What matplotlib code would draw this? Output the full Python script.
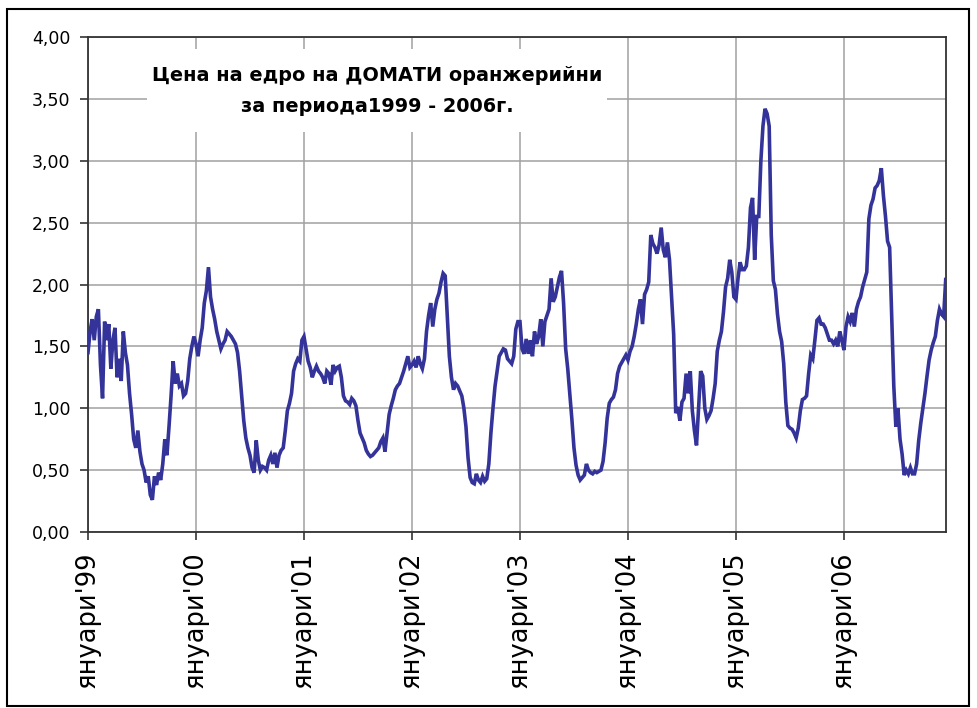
import numpy as np
import matplotlib
matplotlib.use('Agg')
import matplotlib.pyplot as plt
from matplotlib.patches import Rectangle

# weekly wholesale price of greenhouse tomatoes, BGN/kg
prices_1999 = [1.45, 1.62, 1.72, 1.55, 1.74, 1.80, 1.35, 1.08, 1.70, 1.55, 1.68, 1.32, 1.55,
               1.65, 1.25, 1.40, 1.22, 1.62, 1.45, 1.35, 1.12, 0.95, 0.75, 0.68, 0.82, 0.65,
               0.55, 0.50, 0.40, 0.45, 0.30, 0.26, 0.45, 0.38, 0.48, 0.42, 0.55, 0.75, 0.62,
               0.85, 1.10, 1.38, 1.20, 1.28, 1.18, 1.20, 1.10, 1.12, 1.22, 1.40, 1.50, 1.58]
prices_2000 = [1.52, 1.42, 1.55, 1.65, 1.85, 1.95, 2.14, 1.90, 1.80, 1.72, 1.62, 1.55, 1.48,
               1.52, 1.55, 1.62, 1.60, 1.58, 1.55, 1.52, 1.45, 1.30, 1.10, 0.90, 0.76, 0.68,
               0.62, 0.52, 0.48, 0.74, 0.58, 0.50, 0.53, 0.52, 0.50, 0.58, 0.62, 0.55, 0.64,
               0.52, 0.62, 0.66, 0.68, 0.82, 0.98, 1.04, 1.12, 1.30, 1.36, 1.40, 1.38, 1.55]
prices_2001 = [1.58, 1.48, 1.38, 1.33, 1.25, 1.30, 1.34, 1.30, 1.28, 1.25, 1.20, 1.30, 1.28,
               1.19, 1.35, 1.30, 1.33, 1.34, 1.25, 1.10, 1.06, 1.05, 1.03, 1.08, 1.06, 1.02,
               0.90, 0.80, 0.76, 0.72, 0.66, 0.63, 0.61, 0.62, 0.64, 0.66, 0.68, 0.73, 0.76,
               0.65, 0.80, 0.95, 1.02, 1.08, 1.15, 1.18, 1.20, 1.25, 1.30, 1.36, 1.42, 1.33]
prices_2002 = [1.35, 1.38, 1.33, 1.42, 1.36, 1.32, 1.40, 1.62, 1.75, 1.85, 1.66, 1.80, 1.88,
               1.93, 2.02, 2.09, 2.07, 1.75, 1.42, 1.25, 1.15, 1.20, 1.18, 1.14, 1.10, 1.00,
               0.85, 0.60, 0.44, 0.40, 0.39, 0.47, 0.42, 0.40, 0.45, 0.41, 0.43, 0.55, 0.80,
               1.00, 1.18, 1.30, 1.42, 1.45, 1.48, 1.47, 1.40, 1.38, 1.36, 1.42, 1.64, 1.70]
prices_2003 = [1.70, 1.48, 1.44, 1.56, 1.44, 1.55, 1.42, 1.62, 1.52, 1.58, 1.72, 1.50, 1.70,
               1.75, 1.80, 2.05, 1.86, 1.90, 1.98, 2.06, 2.11, 1.85, 1.48, 1.32, 1.12, 0.91,
               0.68, 0.54, 0.46, 0.42, 0.44, 0.46, 0.55, 0.50, 0.48, 0.47, 0.49, 0.48, 0.49,
               0.50, 0.57, 0.72, 0.92, 1.04, 1.07, 1.09, 1.15, 1.28, 1.34, 1.37, 1.40, 1.43]
prices_2004 = [1.39, 1.46, 1.50, 1.58, 1.68, 1.80, 1.88, 1.68, 1.92, 1.96, 2.02, 2.40, 2.33,
               2.30, 2.25, 2.32, 2.46, 2.28, 2.22, 2.34, 2.20, 1.90, 1.60, 0.96, 1.01, 0.90,
               1.05, 1.08, 1.28, 1.12, 1.30, 0.98, 0.82, 0.70, 1.00, 1.30, 1.26, 1.00, 0.91,
               0.94, 0.98, 1.08, 1.20, 1.46, 1.55, 1.62, 1.78, 1.98, 2.05, 2.20, 2.10, 1.90]
prices_2005 = [1.88, 2.05, 2.18, 2.12, 2.12, 2.15, 2.30, 2.62, 2.70, 2.20, 2.55, 2.55, 3.00,
               3.28, 3.42, 3.38, 3.28, 2.40, 2.03, 1.96, 1.76, 1.62, 1.54, 1.36, 1.05, 0.86,
               0.84, 0.83, 0.80, 0.76, 0.84, 0.98, 1.07, 1.08, 1.10, 1.28, 1.43, 1.40, 1.55,
               1.71, 1.73, 1.68, 1.68, 1.65, 1.60, 1.55, 1.55, 1.52, 1.55, 1.50, 1.62, 1.55]
prices_2006 = [1.47, 1.66, 1.74, 1.70, 1.77, 1.66, 1.80, 1.86, 1.90, 1.98, 2.04, 2.10, 2.53,
               2.64, 2.69, 2.78, 2.80, 2.84, 2.94, 2.72, 2.55, 2.35, 2.30, 1.75, 1.18, 0.85,
               1.00, 0.75, 0.63, 0.46, 0.50, 0.47, 0.52, 0.47, 0.47, 0.55, 0.74, 0.88, 1.00,
               1.12, 1.26, 1.39, 1.47, 1.53, 1.58, 1.71, 1.80, 1.76, 1.74, 2.04]

year_labels = ["януари'99", "януари'00", "януари'01", "януари'02",
               "януари'03", "януари'04", "януари'05", "януари'06"]
title_text = 'Цена на едро на ДОМАТИ оранжерийни\nза периода1999 - 2006г.'

prices = np.array(prices_1999 + prices_2000 + prices_2001 + prices_2002 +
                  prices_2003 + prices_2004 + prices_2005 + prices_2006)
years = np.arange(len(prices)) / 52.0

W, H = 977, 708
fig = plt.figure(figsize=(W / 100, H / 100), dpi=100)
ax = fig.add_axes([88 / W, 1 - 532 / H, (946 - 88) / W, (532 - 37) / H])

ax.plot(years, prices, color='#333399', lw=2.6, zorder=3, solid_joinstyle='miter')

ax.set_xlim(0, 7.945)
ax.set_ylim(0, 4)
ax.set_yticks(np.arange(0, 4.01, 0.5))
ax.set_yticklabels([f'{v:.2f}'.replace('.', ',') for v in np.arange(0, 4.01, 0.5)],
                   fontsize=12.5, family='DejaVu Sans')
ax.set_xticks(np.arange(len(year_labels)))
ax.set_xticklabels(year_labels, rotation=90, fontsize=18.5, family='DejaVu Sans', va='top')

ax.grid(True, color='#a0a0a0', lw=1.1, zorder=0)
ax.set_axisbelow(True)
ax.tick_params(axis='y', direction='out', length=5.5, width=1.2, color='#333333', pad=7)
ax.tick_params(axis='x', direction='out', length=6, width=1.2, color='#333333', pad=8)
for s in ax.spines.values():
    s.set_color('#333333')
    s.set_linewidth(1.3)

# white title box on top of the grid
bx0, bx1, by0, by1 = 147, 607, 49, 132
ax.add_patch(Rectangle((bx0 / W, 1 - by1 / H), (bx1 - bx0) / W, (by1 - by0) / H,
                       transform=fig.transFigure, facecolor='white', edgecolor='none', zorder=2))
ax.text(377 / W, 1 - 91 / H, title_text, transform=fig.transFigure, ha='center', va='center',
        fontsize=13.9, fontweight='bold', family='DejaVu Sans', linespacing=1.75, zorder=4)

# outer frame of the picture
fig.patches.append(Rectangle((7 / W, 1 - 706 / H), (969 - 7) / W, (706 - 9) / H,
                             transform=fig.transFigure, fill=False, edgecolor='black', lw=1.5))

fig.savefig('out.png', dpi=100)
